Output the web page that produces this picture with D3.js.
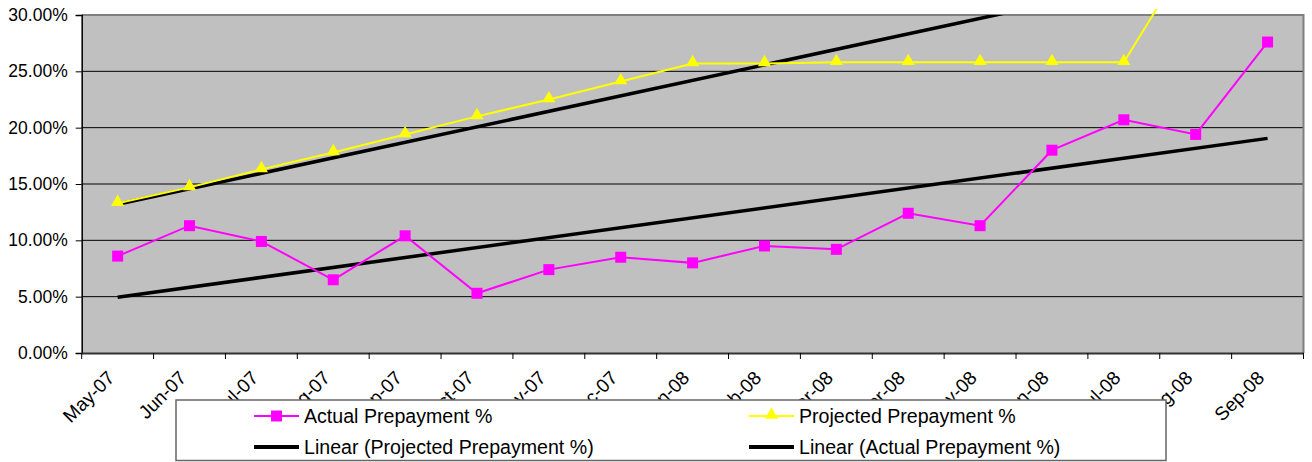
<!DOCTYPE html>
<html><head><meta charset="utf-8">
<script src="https://cdn.jsdelivr.net/npm/d3@7"></script>
<style>
html,body{margin:0;padding:0;background:#fff;}
svg{display:block;font-family:"Liberation Sans",Arial,sans-serif;}
</style></head>
<body><svg id="c" width="1312" height="462"></svg>
<script>
const months = ["May-07","Jun-07","Jul-07","Aug-07","Sep-07","Oct-07","Nov-07","Dec-07","Jan-08","Feb-08","Mar-08","Apr-08","May-08","Jun-08","Jul-08","Aug-08","Sep-08"];
const actualPrepayment = [8.6,11.3,9.9,6.5,10.4,5.3,7.4,8.5,8.0,9.5,9.2,12.4,11.3,18.0,20.7,19.4,27.6];
const projectedPrepayment = [13.3,14.7,16.3,17.8,19.4,21.0,22.5,24.1,25.7,25.7,25.8,25.8,25.8,25.8,25.8,36.2,45.7];
const trendProjectedEnds = [13.2,35.2];   // values at May-07 and Sep-08
const trendActualEnds = [4.95,19.05];
const yTicks = [0,5,10,15,20,25,30];
const legendLabels = ["Actual Prepayment %","Projected Prepayment %","Linear (Projected Prepayment %)","Linear (Actual Prepayment %)"];

const svg = d3.select("#c");
const L = 81.7, R = 1303.5, T = 15, B = 353;
const x = d3.scaleBand().domain(months).range([L,R]).paddingInner(0).paddingOuter(0);
const cx = m => x(m) + x.bandwidth()/2;
const y = d3.scaleLinear().domain([0,30]).range([B,T]);

const defs = svg.append("defs");
defs.append("clipPath").attr("id","plotclip").append("rect").attr("x",L).attr("y",T).attr("width",R-L).attr("height",B-T);
defs.append("clipPath").attr("id","wideclip").append("rect").attr("x",L).attr("y",9).attr("width",R-L).attr("height",B-9);

// plot background
svg.append("rect").attr("x",L).attr("y",T).attr("width",R-L).attr("height",B-T).attr("fill","#C0C0C0");
// gridlines
svg.append("g").selectAll("line").data(yTicks.filter(d=>d>0 && d<30)).join("line")
  .attr("x1",L).attr("x2",R).attr("y1",d=>y(d)).attr("y2",d=>y(d))
  .attr("stroke","#000").attr("stroke-width",1);
// border top/right
svg.append("path").attr("d",`M${L},${T}H${R}V${B}`).attr("fill","none").attr("stroke","#808080").attr("stroke-width",2);

// axes
const yAxis = d3.axisLeft(y).tickValues(yTicks).tickSize(6).tickPadding(8).tickFormat(d=>d3.format(".2f")(d)+"%");
const gy = svg.append("g").attr("transform",`translate(${L},0)`).call(yAxis);
gy.select(".domain").attr("stroke","#000").attr("stroke-width",1.5);
gy.selectAll(".tick line").attr("stroke","#000");
gy.selectAll("text").attr("font-size",17.5).attr("fill","#000").attr("font-family","Liberation Sans, Arial, sans-serif");

const xAxis = d3.axisBottom(x).tickSize(0).tickFormat("");
const gx = svg.append("g").attr("transform",`translate(0,${B})`).call(xAxis);
gx.select(".domain").attr("stroke","#333").attr("stroke-width",2);
// category boundary ticks
const bounds = months.map(m=>x(m)).concat([R]);
svg.append("g").selectAll("line").data(bounds).join("line")
  .attr("x1",d=>d).attr("x2",d=>d).attr("y1",B).attr("y2",B+6).attr("stroke","#000").attr("stroke-width",1);
// rotated labels
svg.append("g").selectAll("text").data(months).join("text")
  .attr("transform",d=>`translate(${cx(d)-2},${B+26}) rotate(-45)`)
  .attr("text-anchor","end").attr("font-size",19).attr("fill","#000").text(d=>d);

// trendlines
const tline = (ends)=>[[0,ends[0]],[months.length-1,ends[1]]];
const lineT = d3.line().x(d=>cx(months[d[0]])).y(d=>y(d[1]));
svg.append("path").attr("clip-path","url(#plotclip)").attr("d",lineT(tline(trendProjectedEnds)))
  .attr("stroke","#000").attr("stroke-width",3.5).attr("fill","none");
svg.append("path").attr("clip-path","url(#plotclip)").attr("d",lineT(tline(trendActualEnds)))
  .attr("stroke","#000").attr("stroke-width",3.5).attr("fill","none");

// projected series
const line = d3.line().x((d,i)=>cx(months[i])).y(d=>y(d));
const gp = svg.append("g").attr("clip-path","url(#wideclip)");
gp.append("path").attr("d",line(projectedPrepayment)).attr("stroke","#FFFF00").attr("stroke-width",2).attr("fill","none");
const tri = d3.symbol().type(d3.symbolTriangle).size(75);
svg.append("g").attr("clip-path","url(#plotclip)").selectAll("path").data(projectedPrepayment).join("path")
  .attr("d",tri).attr("transform",(d,i)=>`translate(${cx(months[i])},${y(d)-1})`).attr("fill","#FFFF00");

// actual series
svg.append("path").attr("d",line(actualPrepayment)).attr("stroke","#FF00FF").attr("stroke-width",2).attr("fill","none");
svg.append("g").selectAll("rect").data(actualPrepayment).join("rect")
  .attr("x",(d,i)=>cx(months[i])-5.5).attr("y",d=>y(d)-5.5).attr("width",11).attr("height",11).attr("fill","#FF00FF");

// legend
const lg = svg.append("g");
lg.append("rect").attr("x",176).attr("y",400).attr("width",990).attr("height",60.5).attr("fill","#fff").attr("stroke","#666").attr("stroke-width",1.5);
const items = [
  {label:legendLabels[0], x:254, y:416, color:"#FF00FF", w:2, mark:"square"},
  {label:legendLabels[1], x:749, y:416, color:"#FFFF00", w:2, mark:"tri"},
  {label:legendLabels[2], x:254, y:447, color:"#000", w:4, mark:null},
  {label:legendLabels[3], x:749, y:447, color:"#000", w:4, mark:null}
];
items.forEach(it=>{
  const g = lg.append("g");
  g.append("line").attr("x1",it.x).attr("x2",it.x+45).attr("y1",it.y).attr("y2",it.y).attr("stroke",it.color).attr("stroke-width",it.w);
  if(it.mark==="square") g.append("rect").attr("x",it.x+17).attr("y",it.y-5.5).attr("width",11).attr("height",11).attr("fill",it.color);
  if(it.mark==="tri") g.append("path").attr("d",tri()).attr("transform",`translate(${it.x+22.5},${it.y-1})`).attr("fill",it.color);
  g.append("text").attr("x",it.x+50).attr("y",it.y).attr("dy","0.36em").attr("font-size",19.6).attr("fill","#000").text(it.label);
});
</script></body></html>
